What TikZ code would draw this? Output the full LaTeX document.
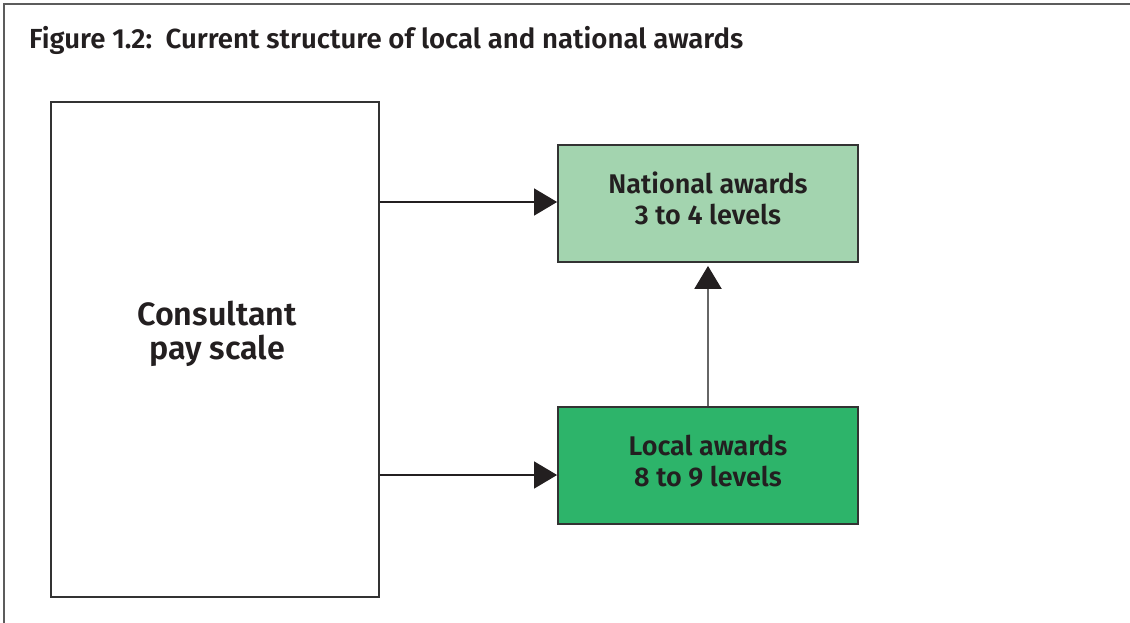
\documentclass[tikz,border=0pt]{standalone}
\usepackage{fontspec}
\setmainfont{Fira Sans}[BoldFont={Fira Sans SemiBold}]
\usetikzlibrary{arrows.meta}
\definecolor{natgreen}{HTML}{A3D4AF}
\definecolor{locgreen}{HTML}{2DB46A}
\definecolor{ink}{HTML}{231F20}
\definecolor{edge}{HTML}{333333}
\begin{document}
\begin{tikzpicture}[x=1pt,y=-1pt,
  box/.style={draw=edge,line width=1.8pt,inner sep=0pt},
  conn/.style={draw=ink,line width=1.3pt,-{Triangle[length=23pt,width=27pt,color=ink]}},
  vconn/.style={draw=edge!75,line width=2pt,-{Triangle[length=23pt,width=27pt,color=ink]}},
  lbl/.style={text=ink,font=\bfseries\fontsize{27}{31}\selectfont,align=center,text depth=10pt}]
\useasboundingbox (0,0) rectangle (1130,623);
\draw[line width=2pt,draw=edge!80] (1130,4) -- (4,4) -- (4,623);
\node[anchor=base west,text=ink,font=\bfseries\fontsize{27.6}{30}\selectfont,inner sep=0pt] (title) at (29,49) {Figure 1.2:\ \ Current structure of local and national awards};
\node[box,fill=white,minimum width=328pt,minimum height=495pt] (pay) at (215,349.5) {};
\node[text=ink,font=\bfseries\fontsize{32.3}{34}\selectfont,align=center] (paytext) at (217,334) {Consultant\\pay scale};
\node[box,fill=natgreen,minimum width=300pt,minimum height=117pt,lbl] (nat) at (708,203.5) {National awards\\3 to 4 levels};
\node[box,fill=locgreen,minimum width=300pt,minimum height=117pt,lbl] (loc) at (708,465.5) {Local awards\\8 to 9 levels};
\draw[conn] ([yshift=1.5pt]pay.east |- nat.west) -- ([yshift=1.5pt]nat.west);
\draw[conn] ([yshift=-9.5pt]pay.east |- loc.west) -- ([yshift=-9.5pt]loc.west);
\draw[vconn,shorten >=3pt] (loc.north) -- (nat.south);
\end{tikzpicture}
\end{document}
